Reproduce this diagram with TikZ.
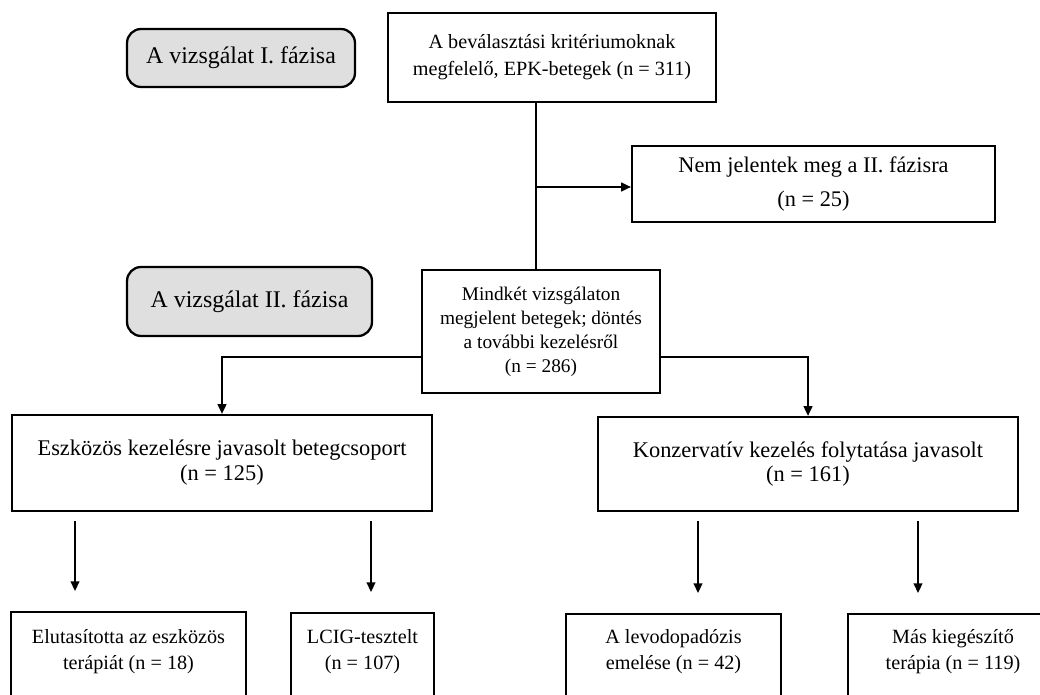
\documentclass[tikz,border=0pt]{standalone}
\usepackage{fontspec}
\setmainfont{Liberation Serif}
\usetikzlibrary{arrows.meta,positioning}

\tikzset{
	box/.style={draw, line width=1.3pt, align=center, inner sep=2pt},
	phase/.style={draw, line width=1.3pt, rounded corners=8pt, fill=gray!25, align=center,
		font=\fontsize{13.6}{16}\selectfont},
	lbl/.style={align=center, inner sep=0pt, font=\fontsize{11.5}{14.7}\selectfont},
	link/.style={line width=0.9pt},
	flow/.style={line width=0.9pt, -{Triangle[length=5.5pt,width=5pt]}},
}

\begin{document}
\begin{tikzpicture}[x=0.02cm, y=-0.02cm]
		\useasboundingbox (0,0) rectangle (1040,695);

		% phase labels
		\node[phase, minimum width=4.56cm, minimum height=1.16cm] (ph1) at (241,58) {A vizsgálat I. fázisa};
		\node[phase, minimum width=4.9cm, minimum height=1.38cm] (ph2) at (249.5,301.5) {A vizsgálat II. fázisa};

		% upper part
		\node[box, font=\fontsize{11.5}{15.3}\selectfont, minimum width=6.56cm, minimum height=1.78cm] (elig) at (552,57.5)
			{A beválasztási kritériumoknak\\ megfelelő, EPK-betegek (n = 311)};
		\node[box, font=\fontsize{12.7}{19.3}\selectfont, minimum width=7.26cm, minimum height=1.52cm] (absent) at (813.5,184)
			{Nem jelentek meg a II. fázisra\\ (n = 25)};
		\node[box, font=\fontsize{11}{13.6}\selectfont, minimum width=4.76cm, minimum height=2.46cm] (both) at (541,331.5)
			{Mindkét vizsgálaton\\ megjelent betegek; döntés\\ a további kezelésről\\ (n = 286)};

		% groups
		\node[box, font=\fontsize{12.75}{14.2}\selectfont, minimum width=8.4cm, minimum height=1.92cm] (device) at (222,463)
			{Eszközös kezelésre javasolt betegcsoport\\ (n = 125)};
		\node[box, font=\fontsize{12.75}{14.2}\selectfont, minimum width=8.4cm, minimum height=1.88cm] (conserv) at (808,464)
			{Konzervatív kezelés folytatása javasolt\\ (n = 161)};

		% bottom row (cut by the page edge)
		\node[box, anchor=north, minimum width=4.7cm, minimum height=1.92cm] (reject) at (128.5,611) {};
		\node[box, anchor=north, minimum width=2.86cm, minimum height=1.92cm] (lcig) at (362.5,612) {};
		\node[box, anchor=north, minimum width=4.3cm, minimum height=1.92cm] (ldopa) at (673.5,613) {};
		\node[box, anchor=north, minimum width=4.2cm, minimum height=1.92cm] (other) at (953,613) {};
		\node[lbl] (reject-t) at ([yshift=-0.82cm]reject.north) {Elutasította az eszközös\\ terápiát (n = 18)};
		\node[lbl] (lcig-t) at ([yshift=-0.8cm]lcig.north) {LCIG-tesztelt\\ (n = 107)};
		\node[lbl] (ldopa-t) at ([yshift=-0.78cm]ldopa.north) {A levodopadózis\\ emelése (n = 42)};
		\node[lbl] (other-t) at ([yshift=-0.78cm]other.north) {Más kiegészítő\\ terápia (n = 119)};

		% connectors
		\coordinate (split) at (536,187);
		\draw[link] (elig.south -| split) -- (both.north -| split);
		\draw[flow] (split) -- (split -| absent.west);
		\draw[flow] ([yshift=-0.51cm]both.west) -| (device.north);
		\draw[flow] ([yshift=-0.51cm]both.east) -| (conserv.north);
		\foreach \src/\tgt/\ax in {device/reject/75, device/lcig/371, conserv/ldopa/698, conserv/other/918}
			\draw[flow, shorten <=0.18cm, shorten >=0.4cm] (\src.south -| \ax,0) -- (\tgt.north -| \ax,0);

	\end{tikzpicture}
\end{document}
